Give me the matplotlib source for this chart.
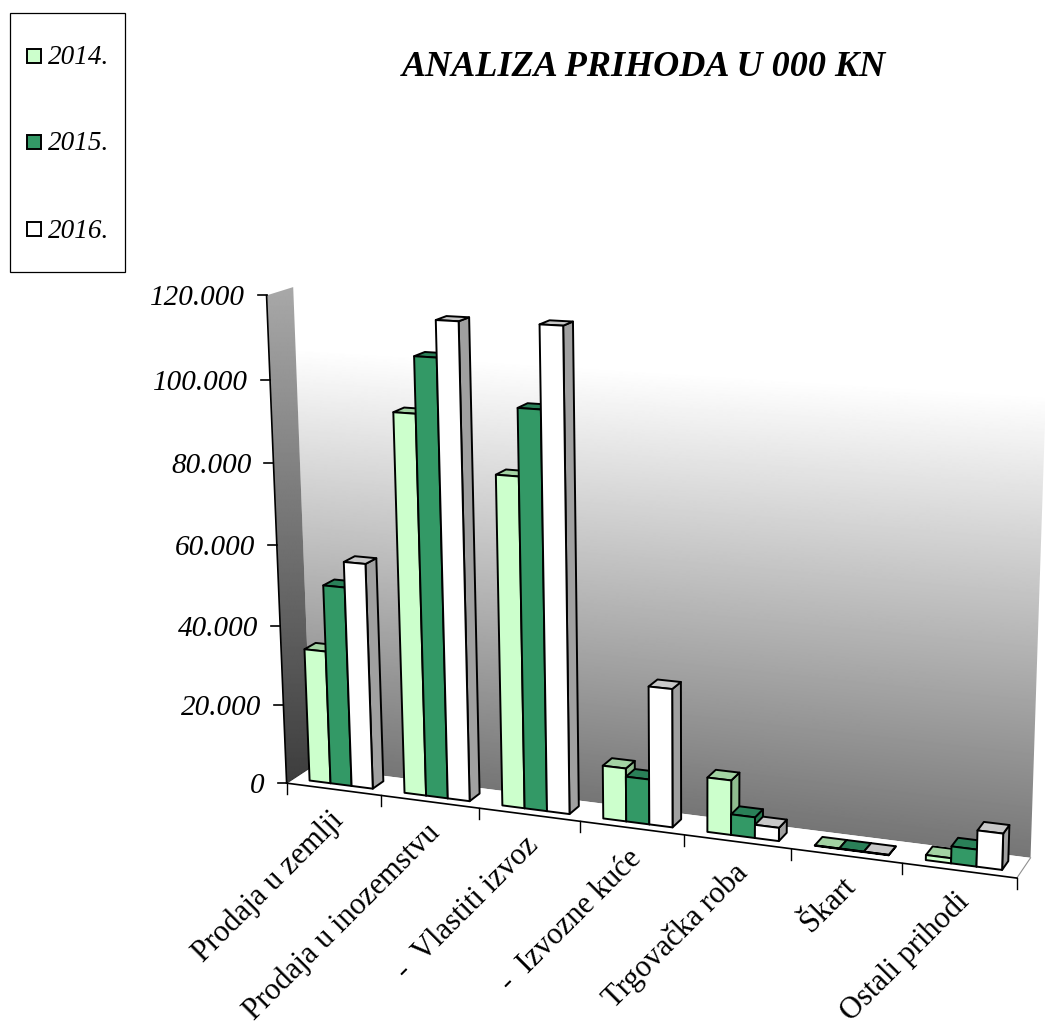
import numpy as np
import matplotlib
matplotlib.use('Agg')
import matplotlib.pyplot as plt
from matplotlib.patches import Polygon, Rectangle

plt.rcParams['font.family'] = ['Liberation Serif', 'DejaVu Serif']

# Data
categories = ['Prodaja u zemlji', 'Prodaja u inozemstvu', '-  Vlastiti izvoz',
              '-  Izvozne kuće', 'Trgovačka roba', 'Škart', 'Ostali prihodi']
years = ['2014.', '2015.', '2016.']
v2014 = [33500, 93500, 80500, 13000, 13200, 100, 1200]
v2015 = [50000, 107000, 96500, 11000, 5000, 100, 4000]
v2016 = [56300, 115700, 116000, 33500, 3200, 100, 8500]
y_ticks = [0, 20000, 40000, 60000, 80000, 100000, 120000]
y_labels = ['0', '20.000', '40.000', '60.000', '80.000', '100.000', '120.000']
series = [v2014, v2015, v2016]

YMAX = 120000.0
NCAT = len(categories)

# Colours: front, side, top
colors = [('#ccffcc', '#8fbc8f', '#a3d3a3'),
          ('#339966', '#267a50', '#2a8058'),
          ('#ffffff', '#a0a0a0', '#c8c8c8')]

# Perspective camera fitted on the corners of the chart box
# (category, value/ymax, depth) -> pixel
calib = [
    (0, 0, 0, 287.5, 782), (7, 0, 0, 1016.7, 879), (0, 0, 1, 310, 768),
    (7, 0, 1, 1030.7, 856.7), (0, 1, 0, 265, 295), (0, 1, 1, 295, 287),
    (7, 1, 1, 1048, 325), (1, 0, 0, 382, 794.5), (2, 0, 0, 480, 807.5),
    (4, 0, 0, 684, 835), (6, 0, 0, 902, 864),
    (0, 20 / 120, 0, 283, 705.7), (0, 100 / 120, 0, 270, 380.7),
]
A, b = [], []
for cx, cy, cz, u, v in calib:
    A.append([cx, cy, cz, 1, 0, 0, 0, 0, -u * cx, -u * cy, -u * cz])
    b.append(u)
    A.append([0, 0, 0, 0, cx, cy, cz, 1, -v * cx, -v * cy, -v * cz])
    b.append(v)
h = np.linalg.lstsq(np.array(A, float), np.array(b, float), rcond=None)[0]


def project(cat, val, depth):
    y = val / YMAX
    w = h[8] * cat + h[9] * y + h[10] * depth + 1
    return ((h[0] * cat + h[1] * y + h[2] * depth + h[3]) / w,
            (h[4] * cat + h[5] * y + h[6] * depth + h[7]) / w)


fig = plt.figure(figsize=(10.45, 10.27), dpi=100)
ax = fig.add_axes([0, 0, 1, 1])
ax.set_xlim(0, 1045)
ax.set_ylim(1027, 0)
ax.axis('off')

# Back wall gradient
bl, br = project(0, 0, 1), project(NCAT, 0, 1)
tl, tr = project(0, YMAX, 1), project(NCAT, YMAX, 1)
xx, yy = np.meshgrid(np.arange(tl[0] - 2, tr[0] + 4), np.arange(tl[1] - 2, br[1] + 2))
t = (xx - bl[0]) / (br[0] - bl[0])
bot = bl[1] + t * (br[1] - bl[1])
top = tl[1] + t * (tr[1] - tl[1])
frac = (bot - yy) / (bot - top)
gray = np.clip(0.46 + 0.62 * frac, 0, 1)
im = ax.imshow(gray, cmap='gray', vmin=0, vmax=1, aspect='auto', zorder=1,
               extent=(xx.min(), xx.max(), yy.max(), yy.min()))
im.set_clip_path(Polygon([bl, br, tr, tl], transform=ax.transData))
ax.set_xlim(0, 1045)
ax.set_ylim(1027, 0)

# Left wall gradient
fl, ftl = project(0, 0, 0), project(0, YMAX, 0)
xx, yy = np.meshgrid(np.arange(ftl[0] - 2, bl[0] + 2), np.arange(tl[1] - 2, fl[1] + 2))
grayl = np.clip(0.66 - 0.42 * (yy - tl[1]) / (fl[1] - tl[1]), 0, 1)
iml = ax.imshow(grayl, cmap='gray', vmin=0, vmax=1, aspect='auto', zorder=1.5,
                extent=(xx.min(), xx.max(), yy.max(), yy.min()))
iml.set_clip_path(Polygon([fl, bl, tl, ftl], transform=ax.transData))
ax.set_xlim(0, 1045)
ax.set_ylim(1027, 0)

# Floor
ax.add_patch(Polygon([fl, project(NCAT, 0, 0), br, bl], fc='white', ec='none', zorder=2))
ax.plot(*zip(fl, bl), color='#303030', lw=0.8, zorder=2.1)
ax.plot(*zip(project(NCAT, 0, 0), br), color='#909090', lw=0.8, zorder=2.1)

# Axes lines and ticks
ax.plot(*zip(fl, ftl), color='black', lw=1.2, zorder=3)
ax.plot(*zip(fl, project(NCAT, 0, 0)), color='black', lw=1.2, zorder=3)
for val, lab in zip(y_ticks, y_labels):
    px, py = project(0, val, 0)
    ax.plot([px - 9, px], [py, py], color='black', lw=1.2, zorder=3)
    ax.text(px - 22, py + 3, lab, ha='right', va='center', fontsize=21,
            style='italic', color='black')
for i in range(NCAT + 1):
    px, py = project(i, 0, 0)
    ax.plot([px, px], [py, py + 11], color='black', lw=1.0, zorder=3)
for i, name in enumerate(categories):
    px, py = project(i + 0.5, 0, 0)
    ax.text(px - 5, py + 16, name, rotation=45, rotation_mode='anchor',
            ha='right', va='top', fontsize=22, color='black')

# Bars
GAP = 0.17
BW = 0.223
D0, D1 = 0.28, 0.72
z = 4
for i in range(NCAT):
    for s, vals in enumerate(series):
        x0 = i + GAP + s * BW
        x1 = x0 + BW
        val = vals[i]
        front, side, topc = colors[s]
        faces = [
            ([(x1, 0, D0), (x1, 0, D1), (x1, val, D1), (x1, val, D0)], side),
            ([(x0, val, D0), (x1, val, D0), (x1, val, D1), (x0, val, D1)], topc),
            ([(x0, 0, D0), (x1, 0, D0), (x1, val, D0), (x0, val, D0)], front),
        ]
        for pts, col in faces:
            ax.add_patch(Polygon([project(*p) for p in pts], closed=True, fc=col,
                                 ec='black', lw=1.4, joinstyle='round', zorder=z))
            z += 1

# Title
ax.text(644, 68, 'ANALIZA PRIHODA U 000 KN', ha='center', va='center',
        fontsize=26, style='italic', weight='bold', color='black')

# Legend box
ax.add_patch(Rectangle((10, 13), 115, 259, fc='white', ec='black', lw=0.9, zorder=3))
for yr, yp, col in zip(years, [56, 142, 229], colors):
    ax.add_patch(Rectangle((27, yp - 7), 14, 14, fc=col[0], ec='black', lw=1.4, zorder=4))
    ax.text(48, yp + 2, yr, ha='left', va='center', fontsize=19.5, style='italic',
            color='black', zorder=4)

fig.savefig('out.png', dpi=100)
